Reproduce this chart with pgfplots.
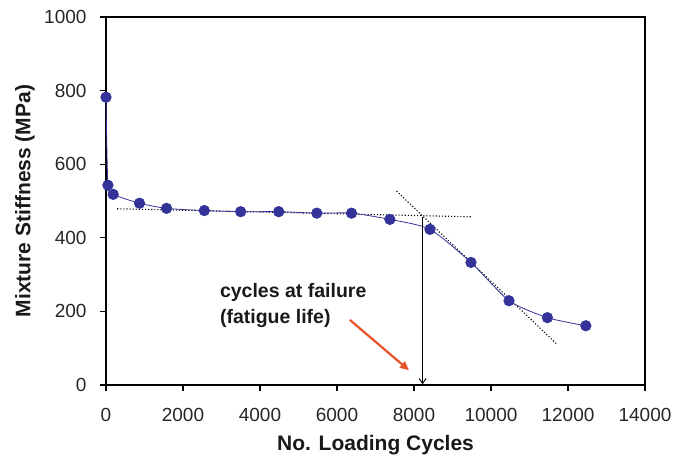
\documentclass[border=0pt]{standalone}
\usepackage{fontspec}
\setmainfont{Liberation Sans}
\usepackage{pgfplots}
\pgfplotsset{compat=1.18}
\usetikzlibrary{arrows.meta}
\definecolor{dblue}{RGB}{51,51,153}
\definecolor{arrorange}{RGB}{232,82,40}
\begin{document}
\begin{tikzpicture}
\begin{axis}[
  scale only axis,
  width=539bp, height=368bp,
  at={(0,0)}, anchor=south west,
  xmin=0, xmax=14000, ymin=0, ymax=1000,
  xtick={0,2000,...,14000}, ytick={0,200,...,1000},
  scaled x ticks=false, scaled y ticks=false,
  tick align=outside, tick pos=left,
  major tick length=6bp,
  axis line style={line width=1.2bp},
  every tick/.style={black, line width=1.1bp},
  /pgf/number format/assume math mode=true,
  /pgf/number format/set thousands separator={},
  tick label style={font=\fontsize{19bp}{22bp}\selectfont, text=black!85},
  xticklabel style={yshift=-14bp},
  yticklabel style={xshift=-10bp},
  xlabel={\textbf{No. Loading Cycles}},
  ylabel={\textbf{Mixture Stiffness (MPa)}},
  label style={font=\fontsize{21bp}{24bp}\selectfont, text=black!90},
  xlabel style={at={(axis description cs:0.5,0)}, anchor=center, yshift=-60bp},
  ylabel style={at={(axis description cs:0,0.5)}, anchor=center, yshift=81bp},
  clip=false,
]
% trend lines
\addplot[black, dotted, line width=1.1bp] coordinates {(291,479) (9498,457)};
\addplot[black, dotted, line width=1.1bp] coordinates {(7547,527) (11709,111)};
% data
\addplot[dblue, line width=0.8bp, smooth, tension=0.4, mark=*, mark size=5.2bp,
  mark options={fill=dblue, draw=dblue}] coordinates {
 (0,782) (50,543) (187,518) (871,494) (1573,480) (2554,474) (3498,471)
 (4486,471) (5475,467) (6377,467) (7373,450) (8414,423) (9480,333)
 (10468,229) (11465,183) (12463,161)};
% vertical arrow
\draw[black, line width=0.9bp, -{Straight Barb[length=5bp,width=7bp]}] (axis cs:8224,457) -- (axis cs:8224,2);
% orange arrow
\draw[arrorange, line width=2.2bp, -{Triangle[length=9bp,width=8bp]}] (axis cs:6333,177) -- (axis cs:7870,40);
\node[anchor=base west, inner sep=0pt, font=\fontsize{19.5bp}{22bp}\selectfont\bfseries, text=black!90] at (axis cs:2957,238) {cycles at failure};
\node[anchor=base west, inner sep=0pt, font=\fontsize{19.5bp}{22bp}\selectfont\bfseries, text=black!90] at (axis cs:2957,166) {(fatigue life)};
\end{axis}
\pgfresetboundingbox
\path[use as bounding box] (-106bp,-78bp) rectangle (569bp,385bp);
\end{tikzpicture}
\end{document}
